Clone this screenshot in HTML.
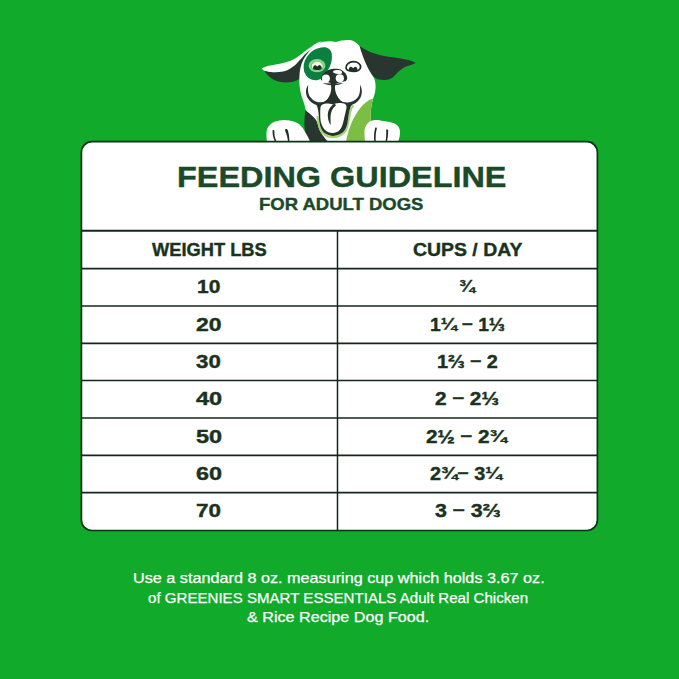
<!DOCTYPE html>
<html><head><meta charset="utf-8">
<style>
html,body{margin:0;padding:0;}
body{width:679px;height:679px;background:#11aa2b;position:relative;overflow:hidden;font-family:"Liberation Sans",sans-serif;}
.card{position:absolute;left:80.6px;top:140.9px;width:514.4px;height:387.2px;background:#fff;border:1.6px solid #0b3316;border-radius:11px;}
.hl{position:absolute;left:82.2px;width:514.4px;height:1.6px;background:#15271b;}
.vl{position:absolute;left:336.8px;top:231px;width:1.4px;height:298px;background:#15271b;}
.q{display:inline-block;transform:scaleY(.89);transform-origin:0 .155em}
.d{position:relative;top:-.11em}
.t{position:absolute;white-space:nowrap;line-height:1;transform-origin:0 0;}
</style></head><body>
<svg style="position:absolute;left:0;top:0" width="679" height="679" viewBox="0 0 679 679">
<g id="dog">
<!-- right ear -->
<path fill="#293630" d="M359.4,46 C364,49 369,52 375.3,53.7 C381,55.5 387,56.5 393,57.2 C398,58 403,59 408.3,60.1 C411,60.8 413.5,61.6 415.8,62.8 C413,64.5 409,65.5 406,66.6 C403,68 401,69.5 398.9,71.3 C396.5,73.5 395,75.5 393,77.2 C391,78.8 389,79.6 387.1,79.8 C384,80 380.5,79.8 377.7,79.2 C376,78.8 374.5,77.5 373,76 C370,72 368.5,69.5 367,66.6 C365,63 363.5,59.5 362.4,56 C361,52.5 360,49 359.4,46 Z"/>
<!-- left ear dark underside -->
<path fill="#293630" d="M263.5,69.5 C265.5,73 268,76 271,78 C274.5,80.5 278.5,81.8 283,82.3 C288,82.7 293,82 297,80.2 C298.5,79.5 299.5,78.8 300.3,78 L301.5,64 L306,55 L312,48 L320.5,42.3 C310,48 303,57 296,64 C290,69 282,72 275,72.2 C270,72.2 266,71 263.5,69.5 Z"/>
<!-- left ear white top -->
<path fill="#fff" d="M261.8,68.6 C264,67 267,66 270,65.5 C274.5,64.7 279,64 283,63 C288,62 292.5,60.3 296,58 C299,56 301.5,54 304,52 C306.5,50 309,48.3 311,47 C313,45.5 315,44 317,43 C318.5,42.1 320,41.5 321.5,41.2 L319.5,43 C317.5,44.2 316,45.5 314,47 C311,49.5 307.5,52 305,54 C302.5,57 300.5,59.5 298,62 C296,64.5 293.5,66.5 291,68 C288.5,69.8 286,70.9 283,71.5 C280,72.1 276.5,72.4 273,72.2 C270,72 267.5,71.6 265,71 C263.5,70.5 262.5,69.7 261.8,68.6 Z"/>
<!-- head + body white -->
<path fill="#fff" d="M318.4,43.5 C322,41.5 330,40.5 336,42 C340,40.5 348,39.5 352,40.5 C355,41.5 358,44 359.5,46 C363,58 368,70 374,78 C376.5,84 376,92 373,99 C371,106 370,114 371,122 L371,142 L306,142 L306,120 C307,114 305.5,107 302.5,99 C300.5,93 299.3,87 299.3,81 C299.3,74 300,68 301.5,64.3 C303,59.5 306,55 311.8,48.3 C314,46 316,44.5 318.4,43.5 Z"/>
<!-- lime chest patch -->
<path fill="#7cbd45" d="M373,98.5 C371,106 370,114 371,122 L371,142 L346,142 C348,130 352,120 358,111 C363,104 368,100 373,98.5 Z"/>
<!-- dark neck left -->
<path fill="#293630" d="M305.3,110 C308.5,112.5 311.5,115 314,117.5 C315.8,119.5 317,121.5 317.8,124 C318.6,127.5 319.8,131 321.8,134 C323.8,137 326,139.8 328.5,142.2 L309,142.2 C306,137 304.5,131 304.4,125 C304.4,119 304.8,114 305.3,110 Z"/>
<!-- eye patch -->
<path fill="#0a7f40" d="M324,47.3 C328,47.3 331,49.5 331.8,54 C332.5,60 331,65 328,70 C325,75 322,79.5 317,80.2 C311,80.6 306.5,77.5 304.3,72 C303,67 303.5,62 306.5,57.5 C310,52 316,47.5 324,47.3 Z"/>
<ellipse cx="317" cy="65.7" rx="8.4" ry="6.6" fill="#8fd88a"/>
<ellipse cx="317.2" cy="66" rx="6.3" ry="4.9" fill="#5fb55a"/>
<ellipse cx="317.2" cy="66" rx="5.6" ry="4.4" fill="#eef8ea"/>
<path fill="#1e2e24" d="M313,69 C313,66.5 314,65 315.3,65.2 C316.3,65.4 316.8,66.3 317.3,66.4 C317.8,66.3 318.5,65 319.6,65 C321,65.2 321.8,67 321.7,69 C320,70.3 315,70.4 313,69 Z"/>
<!-- right eye -->
<path fill="#fff" stroke="#1e2e24" stroke-width="1.7" d="M346,67.8 C345.8,64.5 349,61.8 353.4,61.7 C357.5,61.6 360.5,64 360.6,67 C360.7,69.8 357.5,71.3 353.4,71.3 C349.3,71.3 346.1,70.3 346,67.8 Z"/>
<path fill="#1e2e24" d="M348.8,70.6 C348.6,68.6 349.5,66.8 350.9,66.8 C352,66.9 352.6,68 353.1,68.1 C353.6,68 354.3,66.6 355.5,66.7 C357,66.9 357.6,68.6 357.4,70.6 C355.5,71.5 350.8,71.5 348.8,70.6 Z"/>
<!-- mouth lime line -->
<path fill="none" stroke="#9dd476" stroke-width="2.1" d="M317.4,116 C317.9,121 318.5,125.5 320.2,129.2 C322.5,133.8 326.5,136.8 332.5,137.1 C338.5,137.2 343.2,134.3 345.7,130.6 C348,126.5 348.8,120.5 349.9,113 C350.4,110 351.3,107.5 353.5,105.5"/>
<!-- mouth dark -->
<path fill="#25332b" d="M315.2,103.1 C317,105.5 317.8,108 318.2,110.5 C318.8,114.5 318.8,118 319.3,121.5 C319.8,125 320.6,128 322.2,130.5 C324,133.2 327.5,135.5 332.5,135.9 C337.5,136 341.5,134 344.2,131 C346.5,128 347.3,124 347.8,120.5 C348.3,116.5 348.8,113.5 349.4,110.8 C349.9,108.5 350.5,106.8 351.5,105.4 C352.5,104.2 353.5,103.3 354.8,102.6 C350,100 343,97 334,96 C326,97 320,99 315.2,103.1 Z"/>
<!-- cheeks -->
<ellipse cx="319" cy="93.2" rx="11.3" ry="9.5" fill="#fff"/>
<ellipse cx="348.2" cy="93.2" rx="12" ry="9.8" fill="#fff"/>
<path fill="#293630" d="M308.3,84.8 C306.4,87.5 305.8,90 306,92.8 C306.3,96 307.5,98.5 309.5,100.5 C311.5,102.6 313.8,104.2 316.5,105 C319,105.6 321,105.6 323,105.3 L323,102.4 C320,102.7 317.5,102.3 315.2,101.3 C312.7,100.1 311,98.5 309.8,96.6 C308.6,94.3 308.1,92.2 308,90 C308,88 308.1,86.5 308.3,84.8 Z"/>
<path fill="#293630" d="M360,84.8 C361.6,87.5 362,90 361.8,92.8 C361.5,96 360.3,98.6 358.3,100.8 C356.3,102.9 353.8,104.3 351,105 C348.5,105.5 346.5,105.5 344.5,105.3 L344.5,102.6 C347.5,102.8 350,102.5 352.2,101.6 C354.8,100.4 356.8,98.8 358.1,96.8 C359.4,94.6 359.9,92.3 360,90 C360.1,88 360.1,86.5 360,84.8 Z"/>
<!-- philtrum -->
<path fill="#25332b" d="M329.2,79 L337,79 C335.8,82.5 334.9,85.5 334.9,88 C335.2,92 336.5,95 338.5,98 C340,100 341.5,101.5 343,102.8 L323.5,102.8 C325,101.5 326.8,100 328.2,98 C330,95 331.2,92 331.3,88 C331.3,85.5 330.6,82.5 329.2,79 Z"/>
<!-- whisker lines -->
<path fill="#25332b" d="M322.6,83 C325,83.2 328,83.5 331.5,83.4 L331.5,85.2 C328,85 325,84.2 322.6,83 Z M343.8,83 C341.4,83.2 338.4,83.5 334.8,83.4 L334.8,85.2 C338.4,85 341.4,84.2 343.8,83 Z"/>
<!-- nose -->
<path fill="#25332b" d="M320.8,80 C320.9,77.5 321.6,75.5 322.7,74.4 C323.9,72.8 325,72 326.6,71.2 C328,70 330,69.4 331.9,69.1 C334,68.7 335.5,68.6 337.2,68.8 C339,69 340.3,69.4 341.8,70.2 C343.5,71.2 344.9,72.5 345.8,73.7 C346.8,75.2 347.3,76.8 347.2,78.2 C347.1,79.4 346.6,80.3 345.9,81 L334,84 Z"/>
<ellipse cx="337.6" cy="72" rx="4.5" ry="2" fill="#fff" transform="rotate(5 337.6 72)"/>
<circle cx="325.9" cy="78.6" r="4" fill="#fff"/>
<circle cx="339.8" cy="78.3" r="4.1" fill="#fff"/>
<!-- tongue -->
<path fill="#fff" d="M320.5,107 C321,105 322.5,104.2 324,103.9 C326,103.5 328,103.5 329.5,103.7 C331,103.9 332.2,104.2 333.2,104.6 C334.5,103.8 336.5,103.1 338.5,103 C341,102.9 343.5,103.2 345,104 C346.2,104.8 346.8,106 346.5,108 C346,111 345,114 344.4,117 C343.6,121 342.8,124.5 341.4,127.5 C340,130.3 337.5,132.6 333.5,133 C330,133.2 327,132 325,130 C323,128 321.5,125 320.7,121.5 C320.1,117 320.1,111 320.5,107 Z"/>
<path fill="#25332b" d="M334.6,103.6 C331.5,105.6 329.2,108.3 328.4,111.1 C327.7,113.5 327.7,116 328,118 C328.4,120.8 329.2,123 330.8,125 C330.6,122.5 330.5,120.5 330.5,118 C330.5,115.5 330.9,113.2 331.6,111.3 C332.4,109 333.8,107 336,105.2 Z"/>
<!-- paws -->
<path fill="#fff" d="M267,142 C266.5,138 266.3,135 266.5,132 C267,128.5 267.8,127 269,126 C271,123.5 273,122.2 275,121.5 C278,120.5 281,120 284,120 C287,120.1 290,120.5 292,121 C295,122 297.5,123 299,124 C301,125.8 303,128 304,130 C305.5,132.5 306.8,135 308,137 C308.8,138.5 309.5,140 310,142 Z"/>
<path fill="#fff" d="M365,142 C364.6,138 364.4,134 364.5,130 C365,127 366.5,124 369,122 C371,120.5 373.5,120 376,120 C378.5,120 381,120.5 383,121 C385.5,121.5 388,121.6 390,122 C393,122.8 395.5,123.8 397,125 C399,127 400,129.5 400,132 C400,135 399.5,138 398,142 Z"/>
<path fill="#1e2e24" d="M272.6,130.3 C273.6,129.6 274.4,130 274.4,131 C274.2,134 274.6,137.5 276.6,141.5 L275,141.5 C273.2,138 272.3,134.5 272.6,130.3 Z"/>
<path fill="#1e2e24" d="M285,129.6 C286,128.6 287.3,129 287.8,130.3 C288.8,133.5 289.4,137.5 289.4,141.5 L288,141.5 C287.6,138 286.8,134.5 285.4,131.5 C285.1,130.8 285,130.2 285,129.6 Z"/>
<path fill="#1e2e24" d="M375.2,127.8 C376.2,127.2 377,127.8 376.8,128.8 C375.8,132.5 375.4,136.5 375.8,141.5 L374.3,141.5 C373.7,137 374,132.5 375.2,127.8 Z"/>
<path fill="#1e2e24" d="M386.2,129.8 C387.2,129.2 388.2,129.8 388.2,130.8 C388.2,134.5 387.8,138 387,141.5 L385.6,141.5 C386.2,138 386.4,134.5 386.2,129.8 Z"/>
</g>
</svg>

<svg style="position:absolute;left:0;top:0" width="679" height="679" viewBox="0 0 679 679">
<rect x="81.4" y="141.7" width="516" height="388.8" rx="10.5" fill="#fff" stroke="#0b3316" stroke-width="1.7"/>
<line x1="82" x2="597" y1="230.70" y2="230.70" stroke="#15271b" stroke-width="2.0"/>
<line x1="82" x2="597" y1="268.60" y2="268.60" stroke="#15271b" stroke-width="1.7"/>
<line x1="82" x2="597" y1="306.00" y2="306.00" stroke="#15271b" stroke-width="1.7"/>
<line x1="82" x2="597" y1="343.30" y2="343.30" stroke="#15271b" stroke-width="1.7"/>
<line x1="82" x2="597" y1="380.50" y2="380.50" stroke="#15271b" stroke-width="1.7"/>
<line x1="82" x2="597" y1="418.00" y2="418.00" stroke="#15271b" stroke-width="1.7"/>
<line x1="82" x2="597" y1="455.30" y2="455.30" stroke="#15271b" stroke-width="1.7"/>
<line x1="82" x2="597" y1="492.70" y2="492.70" stroke="#15271b" stroke-width="1.7"/>
<line x1="337.5" x2="337.5" y1="230.7" y2="530" stroke="#15271b" stroke-width="1.5"/>
</svg>
<div class="t" style="left:177.30px;top:162.06px;font-size:29.58px;font-weight:700;color:#1b4a2a;transform:scaleX(1.0956);-webkit-text-stroke:.4px #1b4a2a">FEEDING GUIDELINE</div>
<div class="t" style="left:259.45px;top:195.53px;font-size:17.18px;font-weight:700;color:#1b4a2a;transform:scaleX(1.0771);-webkit-text-stroke:.4px #1b4a2a">FOR ADULT DOGS</div>
<div class="t" style="left:152.30px;top:240.80px;font-size:18.17px;font-weight:700;color:#1a3320;transform:scaleX(1.0064);-webkit-text-stroke:.4px #1a3320">WEIGHT LBS</div>
<div class="t" style="left:412.57px;top:240.63px;font-size:18.70px;font-weight:700;color:#1a3320;transform:scaleX(1.0390);-webkit-text-stroke:.4px #1a3320">CUPS / DAY</div>
<div class="t" style="left:196.64px;top:278.36px;font-size:18.17px;font-weight:700;color:#1a3320;transform:scaleX(1.1553);-webkit-text-stroke:.4px #1a3320">10</div>
<div class="t" style="left:195.53px;top:315.84px;font-size:18.17px;font-weight:700;color:#1a3320;transform:scaleX(1.2648);-webkit-text-stroke:.4px #1a3320">20</div>
<div class="t" style="left:196.19px;top:352.84px;font-size:18.59px;font-weight:700;color:#1a3320;transform:scaleX(1.1987);-webkit-text-stroke:.4px #1a3320">30</div>
<div class="t" style="left:195.96px;top:391.30px;font-size:17.89px;font-weight:700;color:#1a3320;transform:scaleX(1.3151);-webkit-text-stroke:.4px #1a3320">40</div>
<div class="t" style="left:195.99px;top:429.12px;font-size:17.46px;font-weight:700;color:#1a3320;transform:scaleX(1.3434);-webkit-text-stroke:.4px #1a3320">50</div>
<div class="t" style="left:195.75px;top:465.41px;font-size:18.17px;font-weight:700;color:#1a3320;transform:scaleX(1.2878);-webkit-text-stroke:.4px #1a3320">60</div>
<div class="t" style="left:196.34px;top:502.02px;font-size:18.59px;font-weight:700;color:#1a3320;transform:scaleX(1.2063);-webkit-text-stroke:.4px #1a3320">70</div>
<div class="t" style="left:458.74px;top:276.70px;font-size:19.28px;font-weight:700;color:#1a3320;transform:scaleX(0.9827);-webkit-text-stroke:.4px #1a3320"><span class="q">&frac34;</span></div>
<div class="t" style="left:430.22px;top:316.24px;font-size:18.17px;font-weight:700;color:#1a3320;transform:scaleX(1.0587);-webkit-text-stroke:.4px #1a3320">1<span class="q">&frac14;</span> <span class="d">&ndash;</span> 1&#8531;</div>
<div class="t" style="left:436.73px;top:352.84px;font-size:18.59px;font-weight:700;color:#1a3320;transform:scaleX(1.0721);-webkit-text-stroke:.4px #1a3320">1&#8532; <span class="d">&ndash;</span> 2</div>
<div class="t" style="left:434.53px;top:391.30px;font-size:17.89px;font-weight:700;color:#1a3320;transform:scaleX(1.1667);-webkit-text-stroke:.4px #1a3320">2 <span class="d">&ndash;</span> 2&#8531;</div>
<div class="t" style="left:425.51px;top:429.18px;font-size:17.71px;font-weight:700;color:#1a3320;transform:scaleX(1.1721);-webkit-text-stroke:.4px #1a3320">2&frac12; <span class="d">&ndash;</span> 2<span class="q">&frac34;</span></div>
<div class="t" style="left:430.39px;top:465.31px;font-size:18.17px;font-weight:700;color:#1a3320;transform:scaleX(1.0932);-webkit-text-stroke:.4px #1a3320">2<span class="q">&frac34;</span><span class="d">&ndash;</span> 3<span class="q">&frac14;</span></div>
<div class="t" style="left:434.91px;top:502.02px;font-size:18.59px;font-weight:700;color:#1a3320;transform:scaleX(1.1529);-webkit-text-stroke:.4px #1a3320">3 <span class="d">&ndash;</span> 3&#8532;</div>
<div class="t" style="left:133.08px;top:570.30px;font-size:15.07px;font-weight:400;color:#fff;transform:scaleX(1.0758);-webkit-text-stroke:.25px #fff">Use a standard 8 oz. measuring cup which holds 3.67 oz.</div>
<div class="t" style="left:148.27px;top:589.78px;font-size:15.07px;font-weight:400;color:#fff;transform:scaleX(1.0014);-webkit-text-stroke:.25px #fff">of GREENIES SMART ESSENTIALS Adult Real Chicken</div>
<div class="t" style="left:246.98px;top:610.22px;font-size:14.78px;font-weight:400;color:#fff;transform:scaleX(1.0939);-webkit-text-stroke:.25px #fff">&amp; Rice Recipe Dog Food.</div>
</body></html>
